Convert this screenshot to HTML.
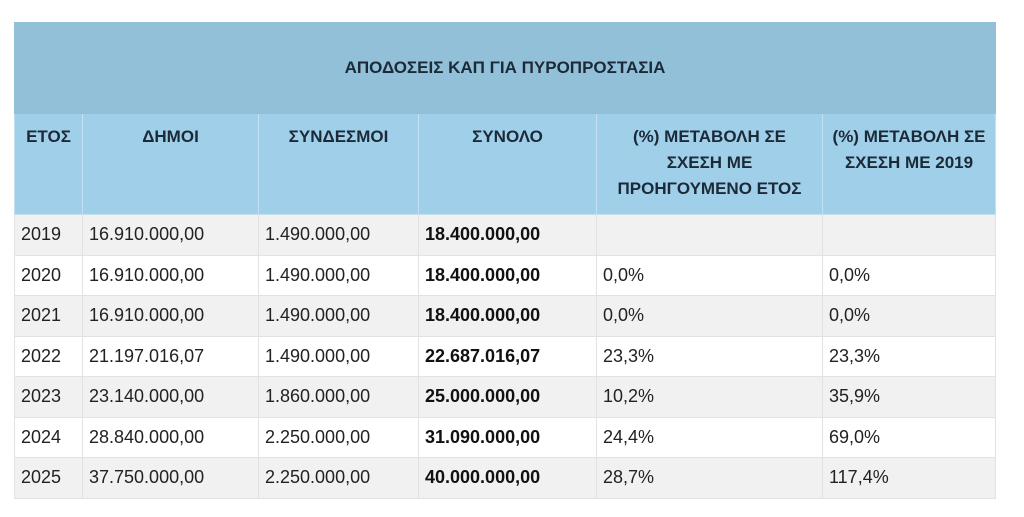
<!DOCTYPE html>
<html><head><meta charset="utf-8"><style>
html,body{margin:0;padding:0;background:#fff;width:1024px;height:517px;overflow:hidden}
body{font-family:"Liberation Sans","DejaVu Sans",sans-serif}
table{position:absolute;left:14px;top:22px;border-collapse:collapse;table-layout:fixed;width:981px}
td,th{border:1px solid #e2e2e2;padding:0 0 0 6px;font-size:18px;color:#222;text-align:left;vertical-align:middle}
th{color:#1c2a38;font-weight:bold;font-size:17px}
tr.t th{background:#93c0d9;height:90px;text-align:center;border-color:#93c0d9;padding:0}
tr.h th{background:#a0cfe9;height:90px;vertical-align:top;text-align:center;padding:10px 2px 0;line-height:26px;border-color:#c4e0f0}
tr.r td{height:39.5px}
tr.g td{background:#f1f1f1}
tr.w td{background:#fff}
td b{color:#111}
</style></head><body>
<table>
<colgroup><col style="width:68px"><col style="width:176px"><col style="width:160px"><col style="width:178px"><col style="width:226px"><col style="width:173px"></colgroup>
<tr class="t"><th colspan="6">ΑΠΟΔΟΣΕΙΣ ΚΑΠ ΓΙΑ ΠΥΡΟΠΡΟΣΤΑΣΙΑ</th></tr>
<tr class="h"><th>ΕΤΟΣ</th><th>ΔΗΜΟΙ</th><th>ΣΥΝΔΕΣΜΟΙ</th><th>ΣΥΝΟΛΟ</th><th>(%) ΜΕΤΑΒΟΛΗ ΣΕ<br>ΣΧΕΣΗ ΜΕ<br>ΠΡΟΗΓΟΥΜΕΝΟ ΕΤΟΣ</th><th>(%) ΜΕΤΑΒΟΛΗ ΣΕ<br>ΣΧΕΣΗ ΜΕ 2019</th></tr>
<tr class="r g"><td>2019</td><td>16.910.000,00</td><td>1.490.000,00</td><td><b>18.400.000,00</b></td><td></td><td></td></tr>
<tr class="r w"><td>2020</td><td>16.910.000,00</td><td>1.490.000,00</td><td><b>18.400.000,00</b></td><td>0,0%</td><td>0,0%</td></tr>
<tr class="r g"><td>2021</td><td>16.910.000,00</td><td>1.490.000,00</td><td><b>18.400.000,00</b></td><td>0,0%</td><td>0,0%</td></tr>
<tr class="r w"><td>2022</td><td>21.197.016,07</td><td>1.490.000,00</td><td><b>22.687.016,07</b></td><td>23,3%</td><td>23,3%</td></tr>
<tr class="r g"><td>2023</td><td>23.140.000,00</td><td>1.860.000,00</td><td><b>25.000.000,00</b></td><td>10,2%</td><td>35,9%</td></tr>
<tr class="r w"><td>2024</td><td>28.840.000,00</td><td>2.250.000,00</td><td><b>31.090.000,00</b></td><td>24,4%</td><td>69,0%</td></tr>
<tr class="r g"><td>2025</td><td>37.750.000,00</td><td>2.250.000,00</td><td><b>40.000.000,00</b></td><td>28,7%</td><td>117,4%</td></tr>
</table>
</body></html>
